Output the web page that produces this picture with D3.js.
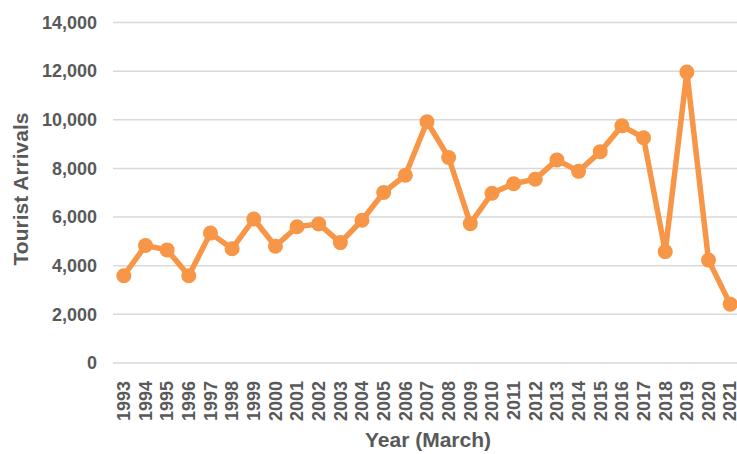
<!DOCTYPE html>
<html>
<head>
<meta charset="utf-8">
<script src="https://cdn.jsdelivr.net/npm/d3@7"></script>
<style>
  body { margin: 0; background: #fff; }
  svg { display: block; font-family: "Liberation Sans", Arial, sans-serif; }
</style>
</head>
<body>
<svg id="chart" width="737" height="454"></svg>
<script>
"use strict";

const years = ["1993", "1994", "1995", "1996", "1997", "1998", "1999", "2000", "2001", "2002",
               "2003", "2004", "2005", "2006", "2007", "2008", "2009", "2010", "2011", "2012",
               "2013", "2014", "2015", "2016", "2017", "2018", "2019", "2020", "2021"];
const arrivals = [3590, 4830, 4650, 3590, 5340, 4700, 5920, 4800, 5600, 5720,
                  4950, 5870, 7010, 7720, 9920, 8450, 5730, 6980, 7370, 7560,
                  8350, 7880, 8690, 9750, 9260, 4580, 11960, 4230, 2420];
const yTicks = [0, 2000, 4000, 6000, 8000, 10000, 12000, 14000];

const svg = d3.select("#chart");
const textColor = "#595959";
const lineColor = "#F79646";

const plotLeft = 113, plotRight = 741, plotTop = 22.5, plotBottom = 363;

const x = d3.scaleBand()
            .domain(years)
            .range([plotLeft, plotRight]);

const y = d3.scaleLinear()
            .domain([0, 14000])
            .range([plotBottom, plotTop]);

// gridlines
svg.append("g")
   .selectAll("line")
   .data(yTicks)
   .enter()
   .append("line")
   .attr("x1", plotLeft)
   .attr("x2", 737)
   .attr("y1", d => y(d))
   .attr("y2", d => y(d))
   .attr("stroke", "#d9d9d9")
   .attr("stroke-width", 1.5);

// y tick labels
svg.append("g")
   .selectAll("text")
   .data(yTicks)
   .enter()
   .append("text")
   .attr("x", 97)
   .attr("y", d => y(d))
   .attr("dy", "0.35em")
   .attr("text-anchor", "end")
   .attr("fill", textColor)
   .attr("font-size", 18)
   .attr("font-weight", "bold")
   .text(d => d3.format(",")(d));

// x tick labels (rotated)
svg.append("g")
   .selectAll("text")
   .data(years)
   .enter()
   .append("text")
   .attr("transform", d => "translate(" + (x(d) + x.bandwidth() / 2) + ",381) rotate(-90)")
   .attr("dy", "0.35em")
   .attr("text-anchor", "end")
   .attr("fill", textColor)
   .attr("font-size", 18)
   .attr("font-weight", "bold")
   .text(d => d);

// axis titles
svg.append("text")
   .attr("x", 428)
   .attr("y", 447)
   .attr("text-anchor", "middle")
   .attr("fill", textColor)
   .attr("font-size", 21)
   .attr("font-weight", "bold")
   .text("Year (March)");

svg.append("text")
   .attr("transform", "translate(28,189) rotate(-90)")
   .attr("text-anchor", "middle")
   .attr("fill", textColor)
   .attr("font-size", 21)
   .attr("font-weight", "bold")
   .text("Tourist Arrivals");

// line + markers
const pts = years.map((yr, i) => ({year: yr, val: arrivals[i]}));

const line = d3.line()
               .x(d => x(d.year) + x.bandwidth() / 2)
               .y(d => y(d.val));

svg.append("path")
   .datum(pts)
   .attr("fill", "none")
   .attr("stroke", lineColor)
   .attr("stroke-width", 5.5)
   .attr("stroke-linejoin", "round")
   .attr("d", line);

svg.append("g")
   .selectAll("circle")
   .data(pts)
   .enter()
   .append("circle")
   .attr("cx", d => x(d.year) + x.bandwidth() / 2)
   .attr("cy", d => y(d.val))
   .attr("r", 7.5)
   .attr("fill", lineColor);
</script>
</body>
</html>
